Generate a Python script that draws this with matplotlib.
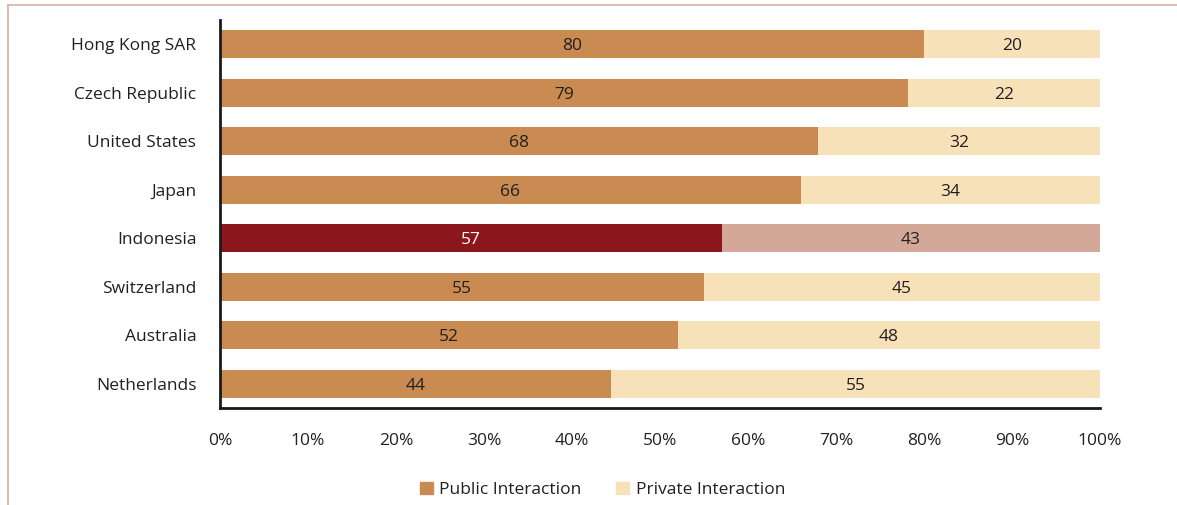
import numpy as np
from matplotlib import pyplot as plt
from matplotlib.patches import Patch
from matplotlib.lines import Line2D
from matplotlib.ticker import FuncFormatter

plt.rcParams['font.family'] = ['Open Sans', 'DejaVu Sans']

countries = ['Hong Kong SAR', 'Czech Republic', 'United States', 'Japan',
             'Indonesia', 'Switzerland', 'Australia', 'Netherlands']
public = [80, 79, 68, 66, 57, 55, 52, 44]
private = [20, 22, 32, 34, 43, 45, 48, 55]
highlight = 'Indonesia'

pub_color, priv_color = '#C98B52', '#F6E1B8'
pub_hi, priv_hi = '#8B161C', '#D4A898'
text_color = '#231F20'

fig = plt.figure(figsize=(11.77, 5.05), dpi=100)
ax = fig.add_axes([0.1869, 0.192, 0.7477, 0.768])

# shares are scaled so each row fills 100%
totals = np.array(public, float) + np.array(private, float)
pub_share = np.array(public) / totals * 100
priv_share = np.array(private) / totals * 100

y = np.arange(len(countries))
for i, name in enumerate(countries):
    hi = name == highlight
    ax.barh(y[i], pub_share[i], height=0.58, color=pub_hi if hi else pub_color)
    ax.barh(y[i], priv_share[i], left=pub_share[i], height=0.58,
            color=priv_hi if hi else priv_color)
    ax.text(pub_share[i] / 2, y[i], str(public[i]), ha='center',
            va='center_baseline', fontsize=12.5,
            color='white' if hi else text_color)
    ax.text(pub_share[i] + priv_share[i] / 2, y[i], str(private[i]),
            ha='center', va='center_baseline', fontsize=12.5, color=text_color)

ax.set_xlim(0, 100)
ax.set_ylim(len(countries) - 0.5, -0.5)
ax.set_yticks(y)
ax.set_yticklabels(countries)
ax.set_xticks(np.arange(0, 101, 10))
ax.xaxis.set_major_formatter(FuncFormatter(lambda v, p: '{:d}%'.format(int(v))))
ax.tick_params(axis='both', length=0, labelsize=12.5, colors=text_color)
ax.tick_params(axis='y', pad=17)
ax.tick_params(axis='x', pad=18)
for side in ['top', 'right']:
    ax.spines[side].set_visible(False)
for side in ['left', 'bottom']:
    ax.spines[side].set_color('#1a1a1a')
    ax.spines[side].set_linewidth(2)

handles = [Patch(color=pub_color, label='Public Interaction'),
           Patch(color=priv_color, label='Private Interaction')]
fig.legend(handles=handles, loc='center', bbox_to_anchor=(0.512, 0.03),
           ncol=2, frameon=False, fontsize=12.5, handlelength=0.7,
           handleheight=0.7, handletextpad=0.4, columnspacing=2.0,
           labelcolor=text_color)

# thin outer frame along the top and left
frame_color = '#DDB5A6'
fig.add_artist(Line2D([0.0068, 1.0], [0.99, 0.99], color=frame_color, lw=1.3,
                      transform=fig.transFigure))
fig.add_artist(Line2D([0.0068, 0.0068], [0.0, 0.99], color=frame_color, lw=1.3,
                      transform=fig.transFigure))

plt.savefig('out.png', dpi=100)
